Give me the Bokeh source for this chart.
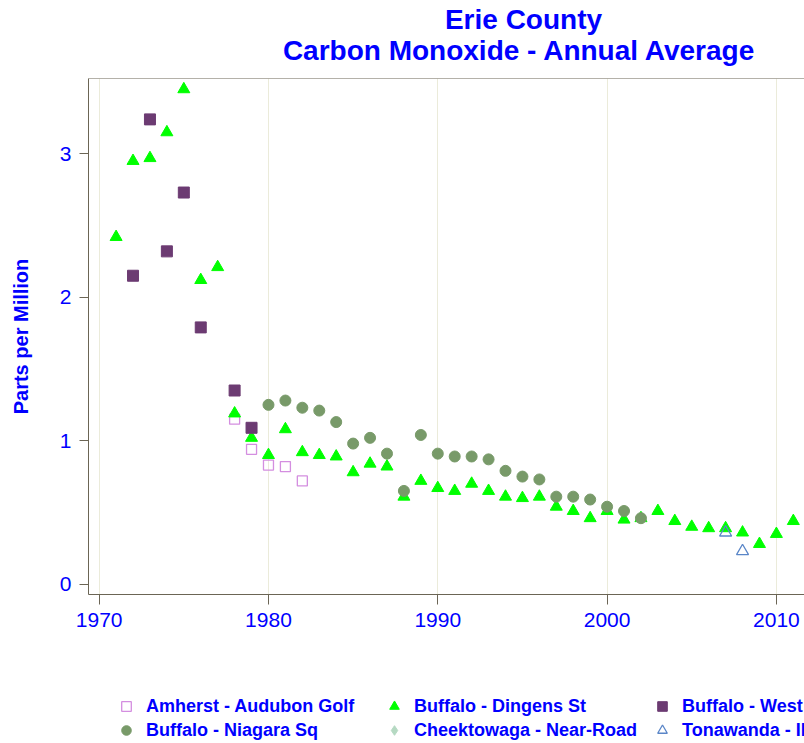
from bokeh.plotting import figure
from bokeh.layouts import column
from bokeh.models import Range1d, Label, Legend, LegendItem, Span, FixedTicker
from bokeh.embed import file_html
from bokeh.resources import INLINE

# ---------------- data ----------------
amherst_years = [1978, 1979, 1980, 1981, 1982]
amherst_co = [1.15, 0.94, 0.83, 0.82, 0.72]

dingens_years = [1971, 1972, 1973, 1974, 1975, 1976, 1977, 1978, 1979, 1980,
                 1981, 1982, 1983, 1984, 1985, 1986, 1987, 1988, 1989, 1990,
                 1991, 1992, 1993, 1994, 1995, 1996, 1997, 1998, 1999, 2000,
                 2001, 2002, 2003, 2004, 2005, 2006, 2007, 2008, 2009, 2010, 2011]
dingens_co = [2.42, 2.95, 2.97, 3.15, 3.45, 2.12, 2.21, 1.19, 1.02, 0.90,
              1.08, 0.92, 0.90, 0.89, 0.78, 0.84, 0.82, 0.61, 0.72, 0.67,
              0.65, 0.70, 0.65, 0.61, 0.60, 0.61, 0.54, 0.51, 0.46, 0.51,
              0.45, 0.46, 0.51, 0.44, 0.40, 0.39, 0.39, 0.36, 0.28, 0.35, 0.44]

west_years = [1972, 1973, 1974, 1975, 1976, 1978, 1979]
west_co = [2.15, 3.24, 2.32, 2.73, 1.79, 1.35, 1.09]

niagara_years = [1980, 1981, 1982, 1983, 1984, 1985, 1986, 1987, 1988, 1989,
                 1990, 1991, 1992, 1993, 1994, 1995, 1996, 1997, 1998, 1999,
                 2000, 2001, 2002]
niagara_co = [1.25, 1.28, 1.23, 1.21, 1.13, 0.98, 1.02, 0.91, 0.65, 1.04,
              0.91, 0.89, 0.89, 0.87, 0.79, 0.75, 0.73, 0.61, 0.61, 0.59,
              0.54, 0.51, 0.46]

cheektowaga_years = []
cheektowaga_co = []

tonawanda_years = [2007, 2008]
tonawanda_co = [0.36, 0.23]

site_names = ["Amherst - Audubon Golf", "Buffalo - Dingens St", "Buffalo - West",
              "Buffalo - Niagara Sq", "Cheektowaga - Near-Road", "Tonawanda - II"]

x_ticks = [1970, 1980, 1990, 2000, 2010]
y_ticks = [0, 1, 2, 3]

title_line1 = "Erie County"
title_line2 = "Carbon Monoxide -  Annual Average"
y_label = "Parts per Million"

FONT = "Liberation Sans"
BLUE = "#0000ff"
AXIS = "#6b6555"
NAN = float("nan")

# marker styles per site (same order as site_names)
styles = [
    dict(marker="square", size=10, fill_color=None, line_color="#d48ee0", line_width=1.3),
    dict(marker="triangle", size=12, fill_color="#00ff00", line_color="#00ff00"),
    dict(marker="square", size=11, fill_color="#6c3b72", line_color="#6c3b72"),
    dict(marker="circle", size=11, fill_color="#789a69", line_color="#789a69"),
    dict(marker="diamond", size=13, fill_color="#b5d9c2", line_color="#b5d9c2"),
    dict(marker="triangle", size=12, fill_color=None, line_color="#5a86c8", line_width=1.3),
]
series = [(amherst_years, amherst_co), (dingens_years, dingens_co),
          (west_years, west_co), (niagara_years, niagara_co),
          (cheektowaga_years, cheektowaga_co), (tonawanda_years, tonawanda_co)]

# column() aligns every figure's frame with the main plot's frame (left = 88 px)
FRAME_LEFT = 88


def bare_fig(h):
    f = figure(width=804, height=h, output_backend="svg", toolbar_location=None,
               x_range=Range1d(0, 804), y_range=Range1d(0, h),
               x_axis_type=None, y_axis_type=None,
               min_border_left=0, min_border_right=0, min_border_top=0,
               min_border_bottom=0)
    f.outline_line_color = None
    f.background_fill_color = "white"
    f.border_fill_color = "white"
    return f


# ---------------- title ----------------
tfig = bare_fig(77)
for txt, yy in ((title_line1, 58), (title_line2, 27)):
    tfig.add_layout(Label(x=523 - FRAME_LEFT, y=yy, x_units="screen", y_units="screen",
                          text=txt, text_align="center", text_baseline="middle",
                          text_font=FONT, text_font_size="28px",
                          text_font_style="bold", text_color=BLUE))

# ---------------- main plot ----------------
p = figure(width=804, height=563, output_backend="svg", toolbar_location=None,
           x_range=Range1d(1969.37, 2011.66), y_range=Range1d(-0.072, 3.525),
           min_border_left=FRAME_LEFT, min_border_right=0, min_border_top=1,
           min_border_bottom=46)
p.outline_line_color = None
p.background_fill_color = "white"
p.border_fill_color = "white"

p.xaxis.ticker = FixedTicker(ticks=x_ticks)
p.yaxis.ticker = FixedTicker(ticks=y_ticks)
for ax in (p.xaxis, p.yaxis):
    ax.axis_line_color = AXIS
    ax.major_tick_line_color = AXIS
    ax.minor_tick_line_color = None
    ax.major_tick_in = 0
    ax.major_label_text_color = BLUE
    ax.major_label_text_font = FONT
    ax.major_label_text_font_size = "21px"
p.xaxis.major_tick_out = 10
p.xaxis.major_label_standoff = 8
p.yaxis.major_tick_out = 9
p.yaxis.major_label_standoff = 8
p.yaxis.axis_label = y_label
p.yaxis.axis_label_text_color = BLUE
p.yaxis.axis_label_text_font = FONT
p.yaxis.axis_label_text_font_style = "bold"
p.yaxis.axis_label_text_font_size = "20px"
p.yaxis.axis_label_standoff = 25

p.ygrid.grid_line_color = None
p.xgrid.ticker = FixedTicker(ticks=x_ticks)
p.xgrid.grid_line_color = "#ebebda"
p.add_layout(Span(location=3.525, dimension="width", line_color=AXIS, line_width=1))

for (xs, ys), st in zip(series, styles):
    p.scatter(xs, ys, **st)

# ---------------- legend ----------------
lfig = bare_fig(103)
items = []
for name, st in zip(site_names, styles):
    # legend proxy: one undrawn (NaN) point so the legend shows the marker
    r = lfig.scatter([NAN], [NAN], **st)
    items.append(LegendItem(label=name, renderers=[r]))
legend = Legend(items=items, location=(114 - FRAME_LEFT, 1), orientation="horizontal",
                ncols=3)
legend.border_line_color = None
legend.background_fill_alpha = 0
legend.padding = 0
legend.margin = 0
legend.spacing = 0
legend.glyph_width = 24
legend.glyph_height = 24
legend.label_standoff = 8
legend.label_width = 236
legend.label_height = 20
legend.label_text_font = FONT
legend.label_text_font_size = "18px"
legend.label_text_font_style = "bold"
legend.label_text_color = BLUE
lfig.add_layout(legend, "center")

layout = column(tfig, p, lfig, spacing=0)
open("out.html", "w").write(file_html(layout, INLINE))
